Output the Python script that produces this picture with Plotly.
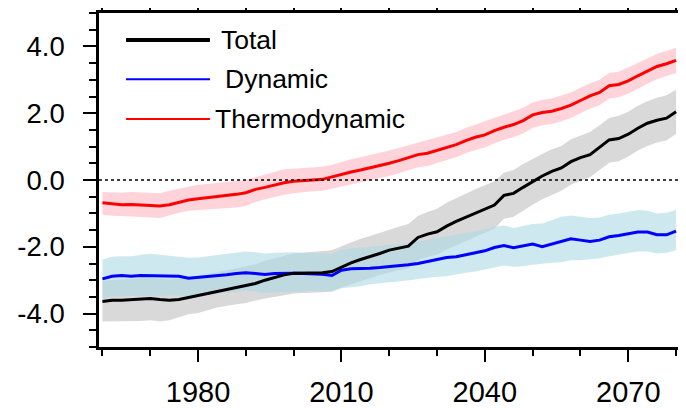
import plotly.graph_objects as go

years = list(range(1960, 2081, 2))

thermo = [-0.68, -0.72, -0.74, -0.73, -0.75, -0.76, -0.78, -0.74, -0.66, -0.60,
          -0.56, -0.53, -0.49, -0.46, -0.43, -0.38, -0.28, -0.22, -0.14, -0.08,
          -0.04, -0.01, 0.00, 0.02, 0.10, 0.18, 0.24, 0.30, 0.36, 0.42,
          0.50, 0.58, 0.66, 0.76, 0.80, 0.88, 0.98, 1.06, 1.18, 1.28,
          1.35, 1.48, 1.58, 1.66, 1.78, 1.95, 2.02, 2.06, 2.14, 2.24,
          2.38, 2.52, 2.62, 2.82, 2.86, 2.97, 3.12, 3.26, 3.40, 3.48, 3.58]
thermo_hi = [-0.36, -0.38, -0.38, -0.36, -0.37, -0.39, -0.40, -0.32, -0.26, -0.18,
             -0.14, -0.12, -0.08, -0.06, -0.03, 0.00, 0.08, 0.16, 0.24, 0.32,
             0.34, 0.36, 0.38, 0.40, 0.46, 0.55, 0.62, 0.68, 0.74, 0.80,
             0.88, 0.96, 1.04, 1.12, 1.18, 1.26, 1.36, 1.44, 1.56, 1.66,
             1.74, 1.86, 1.96, 2.04, 2.16, 2.32, 2.40, 2.44, 2.52, 2.62,
             2.76, 2.90, 3.00, 3.20, 3.24, 3.36, 3.50, 3.64, 3.78, 3.86, 3.96]
thermo_lo = [-1.04, -1.07, -1.08, -1.08, -1.10, -1.12, -1.14, -1.06, -0.98, -0.92,
             -0.90, -0.88, -0.86, -0.84, -0.82, -0.78, -0.66, -0.58, -0.50, -0.44,
             -0.40, -0.36, -0.34, -0.32, -0.26, -0.18, -0.12, -0.06, 0.00, 0.06,
             0.12, 0.20, 0.28, 0.38, 0.42, 0.50, 0.60, 0.68, 0.80, 0.90,
             0.97, 1.10, 1.20, 1.28, 1.40, 1.56, 1.64, 1.68, 1.76, 1.86,
             2.00, 2.14, 2.24, 2.44, 2.48, 2.58, 2.74, 2.88, 3.02, 3.10, 3.20]

total = [-3.64, -3.60, -3.60, -3.58, -3.57, -3.55, -3.58, -3.60, -3.58, -3.52,
         -3.48, -3.42, -3.36, -3.30, -3.24, -3.18, -3.10, -3.00, -2.92, -2.84,
         -2.79, -2.78, -2.78, -2.78, -2.74, -2.60, -2.48, -2.38, -2.30, -2.20,
         -2.10, -2.04, -1.98, -1.72, -1.62, -1.55, -1.38, -1.24, -1.12, -1.00,
         -0.88, -0.75, -0.46, -0.40, -0.22, -0.04, 0.12, 0.26, 0.36, 0.55,
         0.67, 0.76, 0.98, 1.20, 1.24, 1.37, 1.55, 1.70, 1.79, 1.85, 2.04]
total_hi = [-3.02, -3.00, -2.98, -2.96, -2.95, -2.93, -2.96, -2.98, -2.96, -2.92,
            -2.88, -2.82, -2.76, -2.70, -2.66, -2.60, -2.52, -2.42, -2.34, -2.26,
            -2.20, -2.18, -2.16, -2.14, -2.10, -1.98, -1.86, -1.76, -1.68, -1.58,
            -1.48, -1.40, -1.32, -1.08, -0.96, -0.86, -0.68, -0.54, -0.42, -0.28,
            -0.16, -0.04, 0.22, 0.30, 0.48, 0.64, 0.78, 0.92, 1.02, 1.22,
            1.34, 1.44, 1.64, 1.86, 1.92, 2.04, 2.22, 2.36, 2.46, 2.54, 2.70]
total_lo = [-4.24, -4.22, -4.24, -4.22, -4.22, -4.20, -4.24, -4.20, -4.10, -4.02,
            -3.98, -3.90, -3.82, -3.76, -3.72, -3.68, -3.62, -3.55, -3.50, -3.44,
            -3.40, -3.38, -3.36, -3.36, -3.34, -3.22, -3.12, -3.02, -2.94, -2.84,
            -2.76, -2.70, -2.64, -2.40, -2.30, -2.24, -2.08, -1.94, -1.82, -1.70,
            -1.58, -1.46, -1.16, -1.10, -0.92, -0.74, -0.58, -0.44, -0.32, -0.14,
            -0.02, 0.08, 0.30, 0.52, 0.56, 0.70, 0.88, 1.02, 1.12, 1.18, 1.38]

dynamic = [-2.96, -2.88, -2.86, -2.88, -2.86, -2.86, -2.88, -2.86, -2.88, -2.94,
           -2.92, -2.90, -2.86, -2.84, -2.80, -2.78, -2.80, -2.83, -2.80, -2.79,
           -2.79, -2.80, -2.80, -2.82, -2.86, -2.70, -2.66, -2.66, -2.64, -2.62,
           -2.60, -2.58, -2.54, -2.50, -2.44, -2.38, -2.32, -2.30, -2.24, -2.18,
           -2.12, -2.02, -1.96, -2.03, -1.98, -1.92, -2.00, -1.92, -1.86, -1.76,
           -1.80, -1.84, -1.80, -1.70, -1.66, -1.60, -1.56, -1.56, -1.64, -1.64, -1.53]
dynamic_hi = [-2.38, -2.30, -2.28, -2.28, -2.24, -2.21, -2.24, -2.26, -2.30, -2.33,
              -2.32, -2.28, -2.24, -2.20, -2.17, -2.14, -2.16, -2.20, -2.18, -2.16,
              -2.16, -2.18, -2.17, -2.20, -2.22, -2.08, -2.04, -2.02, -2.00, -1.98,
              -1.96, -1.92, -1.88, -1.84, -1.80, -1.74, -1.68, -1.64, -1.60, -1.54,
              -1.48, -1.40, -1.36, -1.44, -1.38, -1.32, -1.30, -1.20, -1.10, -1.06,
              -1.10, -1.14, -1.12, -1.04, -1.00, -0.94, -0.90, -0.92, -1.00, -0.98, -0.90]
dynamic_lo = [-3.54, -3.48, -3.46, -3.48, -3.47, -3.46, -3.48, -3.46, -3.46, -3.48,
              -3.46, -3.44, -3.40, -3.36, -3.34, -3.32, -3.34, -3.38, -3.36, -3.36,
              -3.36, -3.34, -3.32, -3.32, -3.34, -3.24, -3.20, -3.18, -3.12, -3.08,
              -3.06, -3.04, -3.00, -2.98, -2.94, -2.90, -2.88, -2.84, -2.78, -2.74,
              -2.70, -2.62, -2.56, -2.60, -2.58, -2.54, -2.50, -2.48, -2.46, -2.40,
              -2.40, -2.38, -2.34, -2.28, -2.24, -2.18, -2.14, -2.14, -2.20, -2.18, -2.10]

for arr in (thermo, thermo_hi, thermo_lo, total, total_hi, total_lo,
            dynamic, dynamic_hi, dynamic_lo):
    assert len(arr) == len(years), len(arr)

legend_labels = ["Total", "Dynamic", "Thermodynamic"]
y_ticks = [-4, -2, 0, 2, 4]
x_ticks = [1980, 2010, 2040, 2070]

FONT = "Liberation Sans, Arial, Helvetica, sans-serif"


def band(lo, hi, color):
    return go.Scatter(x=years + years[::-1], y=hi + lo[::-1], fill="toself",
                      fillcolor=color, line=dict(width=0), mode="lines",
                      hoverinfo="skip", showlegend=False)


fig = go.Figure()
fig.add_trace(band(total_lo, total_hi, "rgba(165,165,165,0.42)"))
fig.add_trace(band(dynamic_lo, dynamic_hi, "rgba(173,216,230,0.6)"))
fig.add_trace(band(thermo_lo, thermo_hi, "rgba(255,182,193,0.6)"))
fig.add_trace(go.Scatter(x=years, y=dynamic, mode="lines", name=legend_labels[1],
                         line=dict(color="#0000ff", width=3), showlegend=False))
fig.add_trace(go.Scatter(x=years, y=total, mode="lines", name=legend_labels[0],
                         line=dict(color="black", width=3), showlegend=False))
fig.add_trace(go.Scatter(x=years, y=thermo, mode="lines", name=legend_labels[2],
                         line=dict(color="#ff0000", width=3), showlegend=False))

# zero reference line
fig.add_shape(type="line", xref="paper", x0=0, x1=1, yref="y", y0=0, y1=0,
              line=dict(color="black", width=1.3, dash="3px,3px"), layer="above")

# custom legend
leg = [
    (legend_labels[0], "black", 4, 0.919, 0.2060),
    (legend_labels[1], "#0000ff", 2, 0.802, 0.2135),
    (legend_labels[2], "#ff0000", 2, 0.683, 0.1955),
]
for text, col, w, yy, tx in leg:
    fig.add_shape(type="line", xref="paper", yref="paper", x0=0.0464, x1=0.1907,
                  y0=yy, y1=yy, line=dict(color=col, width=w))
    fig.add_annotation(xref="paper", yref="paper", x=tx, y=yy, text=text,
                       showarrow=False, xanchor="left", yanchor="middle",
                       font=dict(family=FONT, size=26.5, color="black"))

axis_common = dict(showline=True, linecolor="black", linewidth=2.5, mirror="allticks",
                   ticks="outside", tickcolor="black", tickwidth=2, showgrid=False,
                   zeroline=False, automargin=False)

fig.update_xaxes(range=[1959.28, 2081.03], tickmode="array", tickvals=x_ticks,
                 ticktext=[str(v) for v in x_ticks], ticklen=12, ticklabelstandoff=5,
                 tickfont=dict(family=FONT, size=29, color="black"),
                 minor=dict(ticks="outside", dtick=10, tick0=1960, ticklen=6,
                            tickwidth=1.5, tickcolor="black"),
                 **axis_common)
fig.update_yaxes(range=[-5, 5], tickmode="array", tickvals=y_ticks,
                 ticktext=[f"{v:.1f}" for v in y_ticks], ticklen=13, ticklabelstandoff=13,
                 tickfont=dict(family=FONT, size=27.5, color="black"),
                 minor=dict(ticks="outside", dtick=0.5, tick0=0, ticklen=7,
                            tickwidth=1.5, tickcolor="black"),
                 **axis_common)

# the page body adds an 8px margin on the left/top; size the figure to compensate
fig.update_layout(width=678, height=400, margin=dict(l=91, r=5, t=5, b=61),
                  plot_bgcolor="white", paper_bgcolor="white", showlegend=False,
                  font=dict(family=FONT, color="black"))

fig.write_html("out.html")
